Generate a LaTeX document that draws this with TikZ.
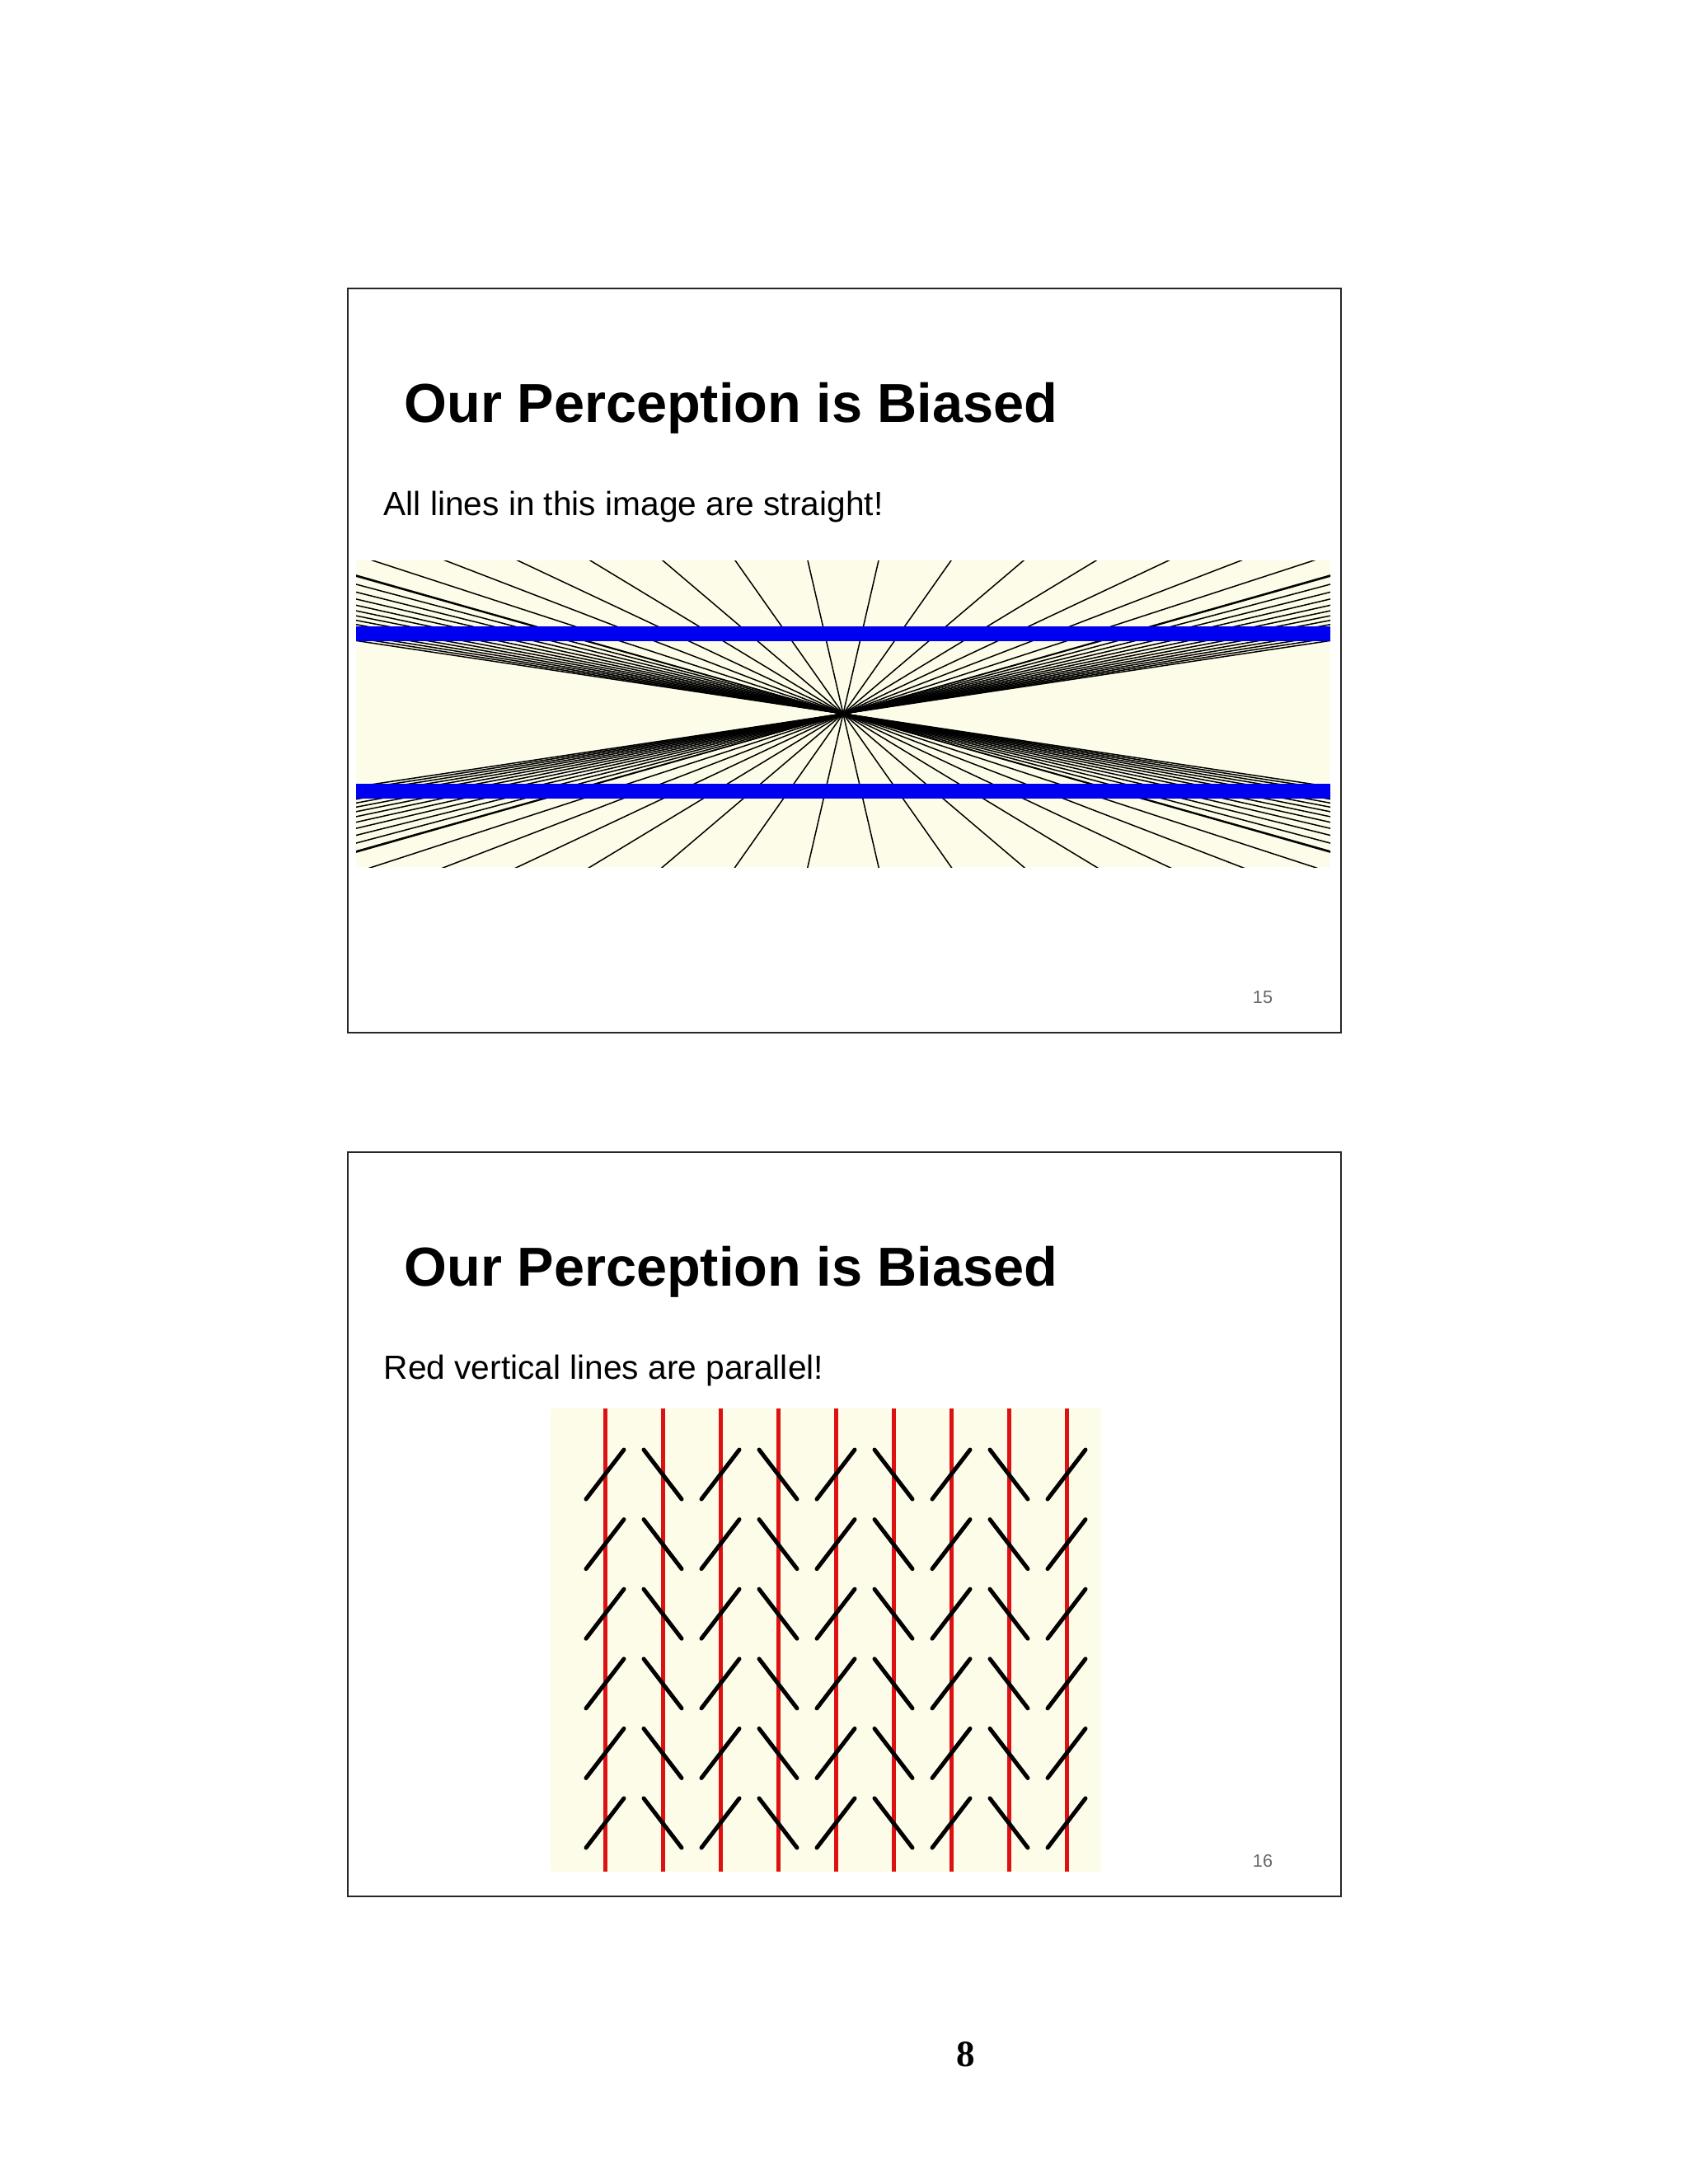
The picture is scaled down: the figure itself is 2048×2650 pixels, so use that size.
\documentclass[tikz,border=0pt]{standalone}
\usepackage{fontspec}
\setmainfont{Liberation Sans}
\newfontfamily\serifb{Liberation Serif}
\definecolor{cream}{HTML}{FDFCE8}
\definecolor{pblue}{HTML}{0000F0}
\definecolor{pred}{HTML}{DD1111}
\begin{document}
\begin{tikzpicture}[x=0.3pt,y=-0.3pt,
  slide/.style={draw=black!85,line width=0.6pt},
  ttl/.style={anchor=base west,inner sep=0pt,font=\fontsize{20}{24}\selectfont\bfseries},
  sub/.style={anchor=base west,inner sep=0pt,font=\fontsize{12.2}{14}\selectfont},
  pnum/.style={anchor=base,inner sep=0pt,text=black!60,font=\fontsize{6.5}{8}\selectfont},
  ray/.style={line width=0.45pt},
  seg/.style={line width=1.5pt,line cap=round}]
\fill[white] (0,0) rectangle (2048,2650);
\useasboundingbox (0,0) rectangle (2048,2650);
% slide 1
\draw[slide] (422,350) rectangle (1627,1253);
\node[ttl] (t1) at (490,512) {Our Perception is Biased};
\node[sub] (s1) at (465,625) {All lines in this image are straight!};
\node[pnum] (p1) at (1532,1217) {15};
\fill[cream] (432,680) rectangle (1614,1052);
\begin{scope}
\clip (432,680) rectangle (1614,1052);
\foreach \k in {0,...,7}{
  \pgfmathsetmacro\xo{43+88*\k}
  \draw[ray] (1023-3*\xo,866+3*186) -- (1023+3*\xo,866-3*186);
  \draw[ray] (1023+3*\xo,866+3*186) -- (1023-3*\xo,866-3*186);
}
\foreach \X in {654,700,745,790,835,880,925,970,1015,1060,1105,1150,1195,1240}{
  \draw[ray] (1023-2*\X,866+2*186) -- (1023+2*\X,866-2*186);
  \draw[ray] (1023+2*\X,866+2*186) -- (1023-2*\X,866-2*186);
}
\end{scope}
\fill[pblue] (432,760) rectangle (1614,778);
\fill[pblue] (432,951) rectangle (1614,969);
% slide 2
\draw[slide] (422,1398) rectangle (1627,2301);
\node[ttl] (t2) at (490,1560) {Our Perception is Biased};
\node[sub] (s2) at (465,1673) {Red vertical lines are parallel!};
\node[pnum] (p2) at (1532,2265) {16};
\fill[cream] (668,1709) rectangle (1336,2271);
\foreach \i in {0,...,8}{
  \pgfmathsetmacro\xx{734+70*\i}
  \draw[pred,line width=1.5pt] (\xx,1709) -- (\xx,2271);
  \foreach \j in {0,...,5}{
    \pgfmathsetmacro\yy{1789+84.6*\j}
    \ifodd\i
      \draw[seg] (\xx-23,\yy-30) -- (\xx+23,\yy+30);
    \else
      \draw[seg] (\xx-23,\yy+30) -- (\xx+23,\yy-30);
    \fi
  }
}
\node[anchor=base,inner sep=0pt,font=\serifb\bfseries\fontsize{13.5}{16}\selectfont] (pg) at (1172,2507) {8};
\end{tikzpicture}
\end{document}
